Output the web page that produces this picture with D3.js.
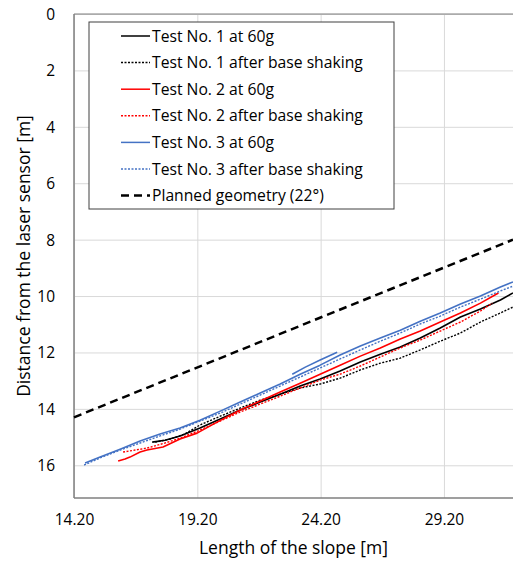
<!DOCTYPE html>
<html>
<head>
<meta charset="utf-8">
<script src="https://cdn.jsdelivr.net/npm/d3@7"></script>
<style>
  body { margin: 0; background: #fff; }
  text { font-family: "Open Sans", Lato, sans-serif; fill: #000; }
</style>
</head>
<body>
<svg width="513" height="561"></svg>
<script>
// values: [length of slope (m), distance from laser (m)]
const test1At60g = [[17.37,15.18],[17.89,15.11],[18.50,14.96],[19.31,14.68],[20.13,14.36],[20.94,14.04],[21.75,13.76],[22.56,13.48],[23.37,13.19],[24.18,12.94],[24.99,12.66],[25.81,12.34],[26.62,12.06],[27.43,11.81],[28.24,11.49],[29.05,11.13],[29.87,10.74],[30.68,10.46],[31.49,10.14],[32.0,9.89]];
const test1After = [[17.49,15.18],[18.10,15.07],[18.70,14.89],[19.31,14.57],[20.13,14.26],[20.94,13.97],[21.75,13.69],[22.56,13.48],[23.37,13.26],[24.18,13.12],[24.99,12.91],[25.81,12.62],[26.62,12.38],[27.43,12.20],[28.24,11.91],[29.05,11.60],[29.87,11.31],[30.68,10.92],[31.49,10.60],[32.0,10.39]];
const test2At60g = [[15.99,15.85],[16.27,15.78],[16.47,15.71],[16.88,15.53],[17.16,15.46],[17.81,15.35],[18.50,15.07],[19.19,14.86],[20.00,14.47],[20.94,14.04],[21.75,13.72],[22.56,13.40],[23.37,13.09],[24.18,12.77],[24.99,12.45],[25.81,12.13],[26.62,11.84],[27.43,11.52],[28.24,11.24],[29.05,10.92],[29.87,10.60],[30.68,10.25],[31.41,9.89]];
const test2After = [[16.19,15.53],[16.68,15.46],[17.16,15.39],[17.89,15.21],[18.50,15.04],[19.31,14.75],[20.13,14.43],[20.94,14.11],[21.75,13.83],[22.56,13.55],[23.37,13.26],[24.18,12.98],[24.99,12.77],[25.81,12.48],[26.62,12.16],[27.43,11.84],[28.24,11.56],[29.05,11.24],[29.87,10.92],[30.68,10.53],[31.16,10.25]];
// null marks the break before the short re-measured piece
const test3At60g = [[14.65,15.92],[15.26,15.71],[16.07,15.43],[16.88,15.14],[17.69,14.89],[18.50,14.68],[19.31,14.40],[20.13,14.08],[20.94,13.76],[21.75,13.44],[22.56,13.12],[23.37,12.77],[24.18,12.45],[24.99,12.09],[25.81,11.77],[26.62,11.49],[27.43,11.21],[28.24,10.89],[29.05,10.60],[29.87,10.28],[30.68,10.00],[31.49,9.68],[32.0,9.50],
  null,[23.05,12.77],[23.58,12.52],[24.18,12.27],[24.87,11.99]];
const test3After = [[14.61,15.99],[15.26,15.74],[16.07,15.46],[16.88,15.21],[17.69,14.96],[18.50,14.72],[19.31,14.43],[20.13,14.15],[20.94,13.83],[21.75,13.51],[22.56,13.19],[23.37,12.87],[24.18,12.55],[24.99,12.23],[25.81,11.91],[26.62,11.60],[27.43,11.31],[28.24,10.99],[29.05,10.71],[29.87,10.39],[30.68,10.11],[31.49,9.82],[32.0,9.65]];
const plannedGeometry = [[14.2,14.3],[32.0,8.0]];

const seriesNames = ['Test No. 1 at 60g','Test No. 1 after base shaking','Test No. 2 at 60g','Test No. 2 after base shaking','Test No. 3 at 60g','Test No. 3 after base shaking','Planned geometry (22°)'];
const seriesData = [test1At60g, test1After, test2At60g, test2After, test3At60g, test3After, plannedGeometry];

const xTicks = [14.2, 19.2, 24.2, 29.2];
const yTicks = [0, 2, 4, 6, 8, 10, 12, 14, 16];
const xDomain = [14.2, 32.0];
const yDomain = [0, 17.16];

// styles kept apart from the data
const seriesStyles = [
  { color: '#000000', dash: null, width: 1.6 },
  { color: '#000000', dash: '2,1.5', width: 1.4 },
  { color: '#ff0000', dash: null, width: 1.6 },
  { color: '#ff0000', dash: '2,1.5', width: 1.4 },
  { color: '#4472c4', dash: null, width: 1.6 },
  { color: '#4472c4', dash: '2,1.5', width: 1.4 },
  { color: '#000000', dash: '8,5', width: 2.5 }
];

const svg = d3.select('svg');
const margin = { top: 14, left: 74, right: 0, bottom: 63 };
const width = +svg.attr('width') - margin.left - margin.right;
const height = +svg.attr('height') - margin.top - margin.bottom;

const xScale = d3.scaleLinear().domain(xDomain).range([0, width]);
const yScale = d3.scaleLinear().domain(yDomain).range([0, height]);

const g = svg.append('g').attr('transform', `translate(${margin.left},${margin.top})`);

// gridlines
const xAxis = d3.axisBottom(xScale).tickValues(xTicks).tickFormat(d3.format('.2f')).tickSize(-height).tickPadding(16);
const yAxis = d3.axisLeft(yScale).tickValues(yTicks).tickFormat(d3.format('d')).tickSize(-width).tickPadding(19);

const xAxisGroup = g.append('g').attr('transform', `translate(0,${height})`).call(xAxis);
const yAxisGroup = g.append('g').call(yAxis);
[xAxisGroup, yAxisGroup].forEach(ax => {
  ax.select('.domain').remove();
  ax.selectAll('.tick line').attr('stroke', '#d9d9d9').attr('stroke-width', 1);
  ax.selectAll('.tick text').style('font-size', '15.5px').attr('fill', '#000');
});
yAxisGroup.selectAll('.tick text').attr('dy', '0.35em');

// axis lines (left, bottom, top)
g.append('line').attr('x1', 0).attr('x2', 0).attr('y1', 0).attr('y2', height).attr('stroke', '#7f7f7f').attr('stroke-width', 1.5);
g.append('line').attr('x1', 0).attr('x2', width).attr('y1', height).attr('y2', height).attr('stroke', '#7f7f7f').attr('stroke-width', 1.5);
g.append('line').attr('x1', 0).attr('x2', width).attr('y1', 0).attr('y2', 0).attr('stroke', '#7f7f7f').attr('stroke-width', 1);

const line = d3.line()
  .defined(d => d !== null)
  .x(d => xScale(d[0]))
  .y(d => yScale(d[1]));

const plot = g.append('g');
seriesData.forEach((data, i) => {
  const st = seriesStyles[i];
  plot.append('path')
    .datum(data)
    .attr('d', line)
    .attr('fill', 'none')
    .attr('stroke', st.color)
    .attr('stroke-width', st.width)
    .attr('stroke-dasharray', st.dash)
    .attr('stroke-linejoin', 'round');
});

// legend
const legend = svg.append('g').attr('transform', 'translate(89,22)');
legend.append('rect')
  .attr('width', 305).attr('height', 187)
  .attr('fill', '#fff').attr('stroke', '#404040').attr('stroke-width', 1);
seriesNames.forEach((name, i) => {
  const st = seriesStyles[i];
  const row = legend.append('g').attr('transform', `translate(0,${14 + i * 26.6})`);
  row.append('line')
    .attr('x1', 32).attr('x2', 61).attr('y1', 0).attr('y2', 0)
    .attr('stroke', st.color)
    .attr('stroke-width', i === 6 ? 2.5 : 1.5)
    .attr('stroke-dasharray', i === 6 ? '8,5' : st.dash);
  row.append('text')
    .attr('x', 63).attr('y', 0).attr('dy', '0.35em')
    .style('font-size', '15.7px')
    .text(name);
});

// axis titles
svg.append('text')
  .attr('x', margin.left + width / 2).attr('y', 548)
  .attr('text-anchor', 'middle').attr('dy', '0.35em')
  .style('font-size', '17.5px')
  .text('Length of the slope [m]');
svg.append('text')
  .attr('transform', `translate(24,${margin.top + height / 2}) rotate(-90)`)
  .attr('text-anchor', 'middle').attr('dy', '0.35em')
  .style('font-size', '17.5px')
  .text('Distance from the laser sensor [m]');
</script>
</body>
</html>
